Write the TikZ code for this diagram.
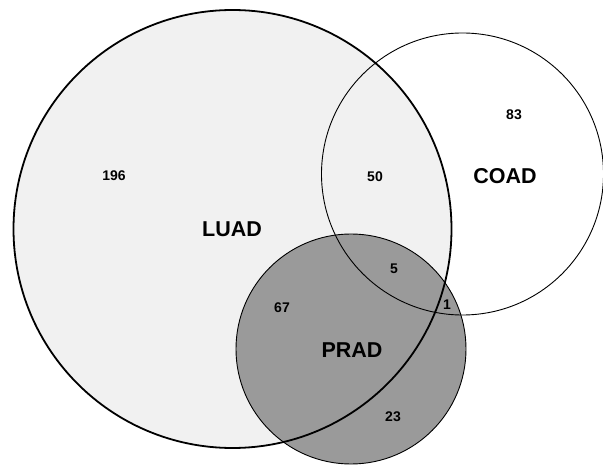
\documentclass[tikz,border=0pt]{standalone}
\usepackage{fontspec}
\setmainfont{Liberation Sans}
\usepackage{tikz}
\definecolor{luadgray}{HTML}{F1F1F1}
\definecolor{pradgray}{HTML}{9A9A9A}
\tikzstyle{count} = [font=\bfseries\fontsize{14}{14}\selectfont,inner sep=0pt]

\begin{document}
\begin{tikzpicture}[x=1pt,y=-1pt,
	setname/.style={font=\bfseries\fontsize{21.5}{21.5}\selectfont,inner sep=0pt},
	venn/.style={circle, draw=black, inner sep=0pt, line width=0.9pt}]
	\useasboundingbox (0,0) rectangle (603,465);
	
	% fills first
	\fill[luadgray] (232.5,229) circle (219pt);
	\fill[pradgray] (351,349) circle (115pt);
	
	% outlines on top
	\node[venn,line width=1.8pt,minimum size=438pt] (luad) at (232.5,229) {};
	\node[venn,minimum size=230pt] (prad) at (351,349) {};
	\node[venn,minimum size=282pt] (coad) at (462.5,174) {};
	
	\node[setname] (luadname) at (232,229) {LUAD};
	\node[setname] (coadname) at (505,176) {COAD};
	\node[setname] (pradname) at (352,350) {PRAD};
	
	\node[count] (n196) at (114,176) {196};
	\node[count] (n50) at (375,177) {50};
	\node[count] (n83) at (514,115) {83};
	\node[count] (n5) at (394,269) {5};
	\node[count] (n1) at (447,305) {1};
	\node[count] (n67) at (282,308) {67};
	\node[count] (n23) at (393,417) {23};
\end{tikzpicture}
\end{document}
